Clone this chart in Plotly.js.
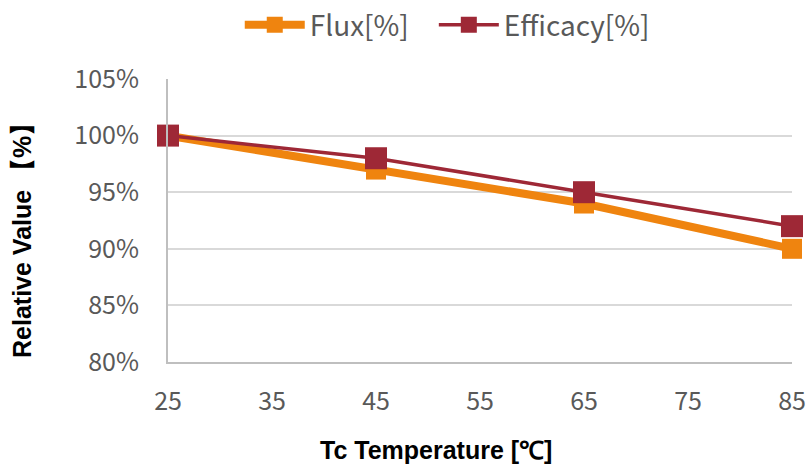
<!DOCTYPE html>
<html>
<head>
<meta charset="utf-8">
<script src="https://cdn.plot.ly/plotly-3.0.1.min.js"></script>
<style>
  html, body { margin: 0; padding: 0; background: #fff; }
  #chart { width: 807px; height: 469px; }
</style>
</head>
<body>
<div id="chart"></div>
<script>
// Tc temperature points (°C)
const temperatures = [25, 45, 65, 85];
// Relative values in percent
const fluxPct = [100, 97, 94, 90];
const efficacyPct = [100, 98, 95, 92];
// Axis ticks
const xTicks = [25, 35, 45, 55, 65, 75, 85];
const yTicks = [80, 85, 90, 95, 100, 105];
const yTickLabels = ['80%', '85%', '90%', '95%', '100%', '105%'];
const xTitle = 'Tc Temperature [\u2103]';
const yTitle = 'Relative Value \u3010%\u3011';

const labelFont = { family: 'Noto Sans CJK TC, Noto Sans, sans-serif', size: 25, color: '#595959' };
const titleFont = { family: 'Liberation Sans, Arial, sans-serif', size: 25, color: '#000000', weight: 'bold' };
const legendFont = { family: 'Noto Sans CJK TC, Noto Sans, sans-serif', size: 28, color: '#595959' };

const traces = [
  {
    x: temperatures, y: fluxPct, name: 'Flux[%]', legend: 'legend',
    type: 'scatter', mode: 'lines+markers', cliponaxis: false,
    line: { color: '#EF840F', width: 8 },
    marker: { symbol: 'square', size: 20, color: '#EF840F' }
  },
  {
    x: temperatures, y: efficacyPct, name: 'Efficacy[%]', legend: 'legend2',
    type: 'scatter', mode: 'lines+markers', cliponaxis: false,
    line: { color: '#9E2836', width: 3.5 },
    marker: { symbol: 'square', size: 22, color: '#9E2836' }
  }
];

const layout = {
  width: 807, height: 469,
  margin: { l: 168, r: 15, t: 79, b: 107 },
  paper_bgcolor: '#ffffff', plot_bgcolor: '#ffffff',
  showlegend: true,
  legend: {
    orientation: 'h', x: 0.115, xanchor: 'left', y: 1.0, yref: 'container', yanchor: 'top',
    font: legendFont, itemwidth: 60
  },
  legend2: {
    orientation: 'h', x: 0.426, xanchor: 'left', y: 1.0, yref: 'container', yanchor: 'top',
    font: legendFont, itemwidth: 60
  },
  xaxis: {
    range: [25, 85], tickvals: xTicks, ticktext: xTicks.map(String),
    showgrid: false, zeroline: false,
    showline: true, linecolor: '#BFBFBF', linewidth: 2,
    ticks: '', ticklabelstandoff: 16,
    tickfont: labelFont
  },
  yaxis: {
    range: [80, 105], tickvals: yTicks, ticktext: yTickLabels,
    showgrid: true, gridcolor: '#D9D9D9', gridwidth: 2, zeroline: false,
    showline: true, linecolor: '#BFBFBF', linewidth: 2,
    ticks: '', ticklabelstandoff: 22,
    tickfont: labelFont
  },
  // Axis titles placed as paper annotations
  annotations: [
    {
      text: xTitle, xref: 'paper', yref: 'paper',
      x: (436 - 168) / 624, y: -0.31, xanchor: 'center', yanchor: 'middle',
      showarrow: false, font: titleFont
    },
    {
      text: yTitle, xref: 'paper', yref: 'paper', textangle: -90,
      x: (22 - 168) / 624, y: (362 - 235) / 283, xanchor: 'center', yanchor: 'middle',
      showarrow: false, font: titleFont
    }
  ]
};

Plotly.newPlot('chart', traces, layout, { staticPlot: true, displayModeBar: false });
</script>
</body>
</html>
